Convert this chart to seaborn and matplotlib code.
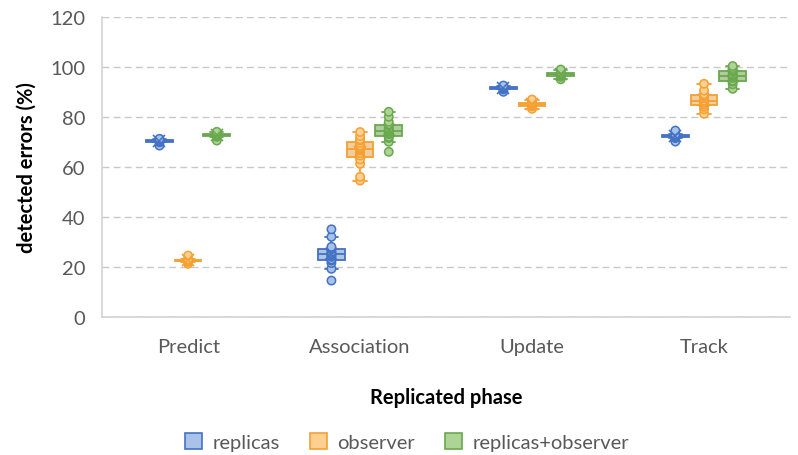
import numpy as np
import pandas as pd
import matplotlib.pyplot as plt
import seaborn as sns
from matplotlib.patches import Patch

# Valores (detected errors %)
fases = ["Predict", "Association", "Update", "Track"]
series = ["replicas", "observer", "replicas+observer"]

predict_replicas = [68.5, 69.8, 70.0, 70.2, 70.4, 70.5, 70.6, 70.8, 71.0, 71.2]
predict_observer = [21.2, 22.0, 22.2, 22.4, 22.5, 22.6, 22.8, 23.0, 24.5]
predict_ambos = [70.5, 72.0, 72.3, 72.5, 72.6, 72.8, 73.0, 73.2, 74.0]

assoc_replicas = [14.5, 19.2, 21.5, 22.5, 23.0, 24.0, 24.5, 25.0, 25.5, 26.0, 27.0, 27.5, 28.0, 32.0, 35.0]
assoc_observer = [54.5, 56.0, 61.2, 63.0, 64.5, 65.5, 66.5, 67.0, 67.5, 68.5, 69.5, 70.5, 71.0, 72.3, 73.9]
assoc_ambos = [66.0, 70.0, 71.5, 72.0, 73.0, 73.5, 74.0, 74.5, 75.0, 75.5, 76.5, 77.0, 78.0, 80.0, 82.0]

update_replicas = [90.0, 91.0, 91.2, 91.4, 91.5, 91.6, 91.8, 92.0, 92.5]
update_observer = [83.2, 84.2, 84.5, 84.8, 85.0, 85.2, 85.5, 86.0, 86.9]
update_ambos = [95.0, 96.0, 96.5, 96.8, 97.0, 97.2, 97.5, 98.0, 98.9]

track_replicas = [70.1, 71.5, 71.8, 72.0, 72.2, 72.4, 72.6, 73.0, 74.5]
track_observer = [81.2, 83.0, 84.0, 84.8, 85.5, 86.0, 86.5, 87.5, 88.5, 89.0, 90.5, 93.2]
track_ambos = [91.2, 93.0, 94.0, 94.5, 95.5, 96.0, 96.5, 97.0, 98.0, 98.8, 99.5, 100.3]

datos = {
    ("Predict", "replicas"): predict_replicas,
    ("Predict", "observer"): predict_observer,
    ("Predict", "replicas+observer"): predict_ambos,
    ("Association", "replicas"): assoc_replicas,
    ("Association", "observer"): assoc_observer,
    ("Association", "replicas+observer"): assoc_ambos,
    ("Update", "replicas"): update_replicas,
    ("Update", "observer"): update_observer,
    ("Update", "replicas+observer"): update_ambos,
    ("Track", "replicas"): track_replicas,
    ("Track", "observer"): track_observer,
    ("Track", "replicas+observer"): track_ambos,
}

filas = []
for (fase, serie), vals in datos.items():
    for v in vals:
        filas.append({"fase": fase, "serie": serie, "valor": v})
df = pd.DataFrame(filas)

relleno = {"replicas": "#A9C3E8", "observer": "#FFD08F", "replicas+observer": "#AED495"}
borde = {"replicas": "#4472C4", "observer": "#F5A033", "replicas+observer": "#6AA84F"}
ANCHO = 0.5

sns.set_style("white")
plt.rcParams['font.family'] = ['Lato', 'DejaVu Sans']

fig = plt.figure(figsize=(7.98, 4.56), dpi=100)
ax = fig.add_axes([0.128, 0.303, 0.862, 0.658])

for serie in series:
    sub = df[df["serie"] == serie]
    sns.boxplot(data=sub, x="fase", y="valor", hue="serie", order=fases, hue_order=series,
                palette=relleno, dodge=True, width=ANCHO, gap=0.07, linecolor=borde[serie],
                linewidth=1.3, fliersize=0, whis=1.5, showmeans=True,
                meanprops=dict(marker="x", markeredgecolor=borde[serie], markersize=9,
                               markeredgewidth=1.2, zorder=5),
                legend=False, ax=ax, zorder=2)
    n_antes = len(ax.collections)
    sns.stripplot(data=sub, x="fase", y="valor", hue="serie", order=fases, hue_order=series,
                  palette=relleno, dodge=True, jitter=False, size=6, linewidth=1.1,
                  edgecolor=borde[serie], legend=False, ax=ax, zorder=3)
    # stripplot esquiva con ancho 0.8: se reescala para que caiga en el centro de cada caja
    for col in ax.collections[n_antes:]:
        off = col.get_offsets()
        if len(off) == 0:
            continue
        centro = np.round(off[:, 0])
        off[:, 0] = centro + (off[:, 0] - centro) * ANCHO / 0.8
        col.set_offsets(off)

ax.set_ylim(0, 120)
ax.set_yticks(np.arange(0, 121, 20))
ax.yaxis.grid(True, linestyle=(0, (5, 3)), color="#C8C8C8", linewidth=1)
ax.set_axisbelow(True)
for s in ["top", "right"]:
    ax.spines[s].set_visible(False)
for s in ["bottom", "left"]:
    ax.spines[s].set_color("#CFCFCF")
    ax.spines[s].set_linewidth(1.1)
ax.tick_params(axis="both", length=0, labelsize=14.5, colors="#595959")
ax.tick_params(axis="y", pad=12)
ax.tick_params(axis="x", pad=15)

ax.set_xlabel("Replicated phase", fontsize=14.5, fontweight="bold", color="#000000", labelpad=23)
ax.set_ylabel("detected errors (%)", fontsize=14.5, fontweight="bold", color="#000000", labelpad=10)

handles = [Patch(facecolor=relleno[s], edgecolor=borde[s], linewidth=1.2, label=s) for s in series]
fig.legend(handles=handles, loc="lower center", ncol=3, frameon=False, fontsize=14.5,
           bbox_to_anchor=(0.51, -0.03), handlelength=0.85, handleheight=0.85, handletextpad=0.5,
           columnspacing=1.5, labelcolor="#595959")

fig.savefig("out.png", dpi=100)
